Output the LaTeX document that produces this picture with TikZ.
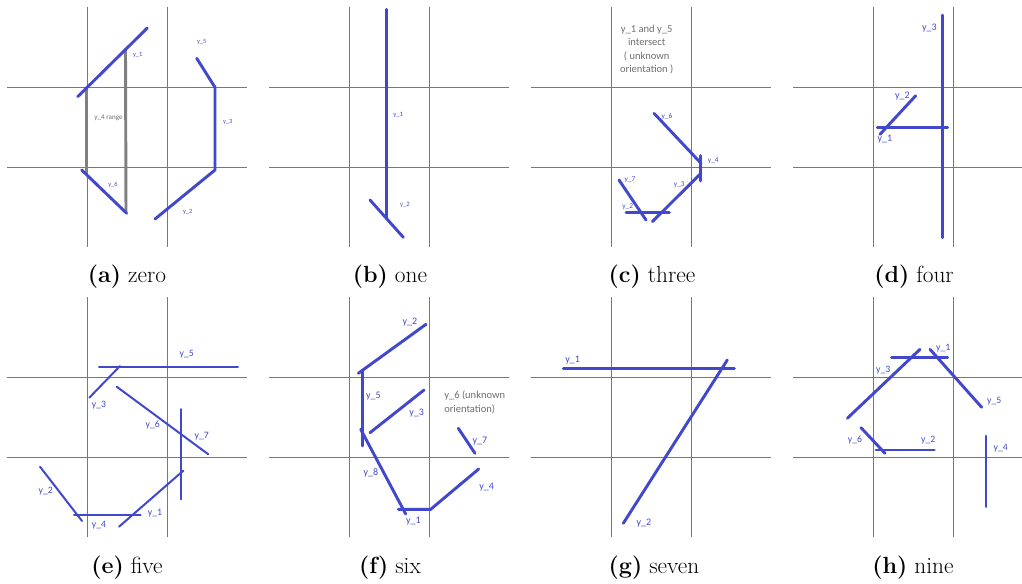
\documentclass[tikz,border=0pt]{standalone}
\usepackage{fontspec}
\usepackage{tikz}
\newfontfamily\lblfont{Carlito}
\definecolor{strokeblue}{RGB}{66,72,204}
\definecolor{gridgray}{RGB}{120,120,120}
\definecolor{rangegray}{RGB}{128,128,128}
\definecolor{notegray}{RGB}{110,110,110}

\begin{document}
\begin{tikzpicture}[x=0.75pt, y=-0.75pt,
    gridline/.style={draw=gridgray, line width=0.6pt},
    stroke/.style={draw=strokeblue, line width=2.2pt, line cap=round},
    thinstroke/.style={draw=strokeblue, line width=1.5pt, line cap=round},
    rangebar/.style={draw=rangegray, line width=2.2pt},
    lbl/.style={text=strokeblue, font=\lblfont\fontsize{#1}{#1}\selectfont, inner sep=0pt},
    lbl/.default=7.5,
    note/.style={text=notegray, font=\lblfont\fontsize{7.9}{10}\selectfont, inner sep=0pt},
    caption/.style={font=\fontsize{17.5}{20}\selectfont, inner sep=0pt}]
    \useasboundingbox (0,0) rectangle (1022,583);
    % grids
    \foreach \ox in {7,269,531,793} {
        \foreach \oy in {7,297} {
            \pgfmathsetmacro\xr{min(\ox+240,1022)}
            \draw[gridline] (\ox+80,\oy) -- (\ox+80,\oy+240);
            \draw[gridline] (\ox+160,\oy) -- (\ox+160,\oy+240);
            \draw[gridline] (\ox,\oy+80) -- (\xr,\oy+80);
            \draw[gridline] (\ox,\oy+160) -- (\xr,\oy+160);
        }
    }
    % (a) zero
    \draw[rangebar] (86.7,87.3) -- (86.7,173);
    \draw[rangebar] (125.5,50) -- (126,212.7);
    \draw[stroke] (77.7,96.7) -- (147.3,28);
    \draw[stroke] (81.7,170) -- (126.7,213.3);
    \draw[stroke] (196.7,58.3) -- (215,87.3) -- (215,170) -- (155,219);
    \node[lbl=4.8] (a1) at (137.7,55) {y\_1};
    \node[lbl=4.8] (a2) at (187.7,211.7) {y\_2};
    \node[lbl=4.8] (a3) at (227.7,122.3) {y\_3};
    \node[lbl=4.8] (a5) at (201.7,42.3) {y\_5};
    \node[lbl=4.8] (a6) at (113,185) {y\_6};
    \node[note, font=\lblfont\fontsize{5.3}{6}\selectfont] (a4) at (108.5,118) {y\_4 range};
    \node[caption] (capa) at (127,277) {\textbf{(a)} zero};
    % (b) one
    \draw[stroke] (386.7,9.3) -- (386.7,218.3);
    \draw[stroke] (370,200) -- (403.3,237.3);
    \node[lbl=5] (b1) at (398.3,115) {y\_1};
    \node[lbl=5] (b2) at (405,205) {y\_2};
    \node[caption] (capb) at (390,277) {\textbf{(b)} one};
    % (c) three
    \node[note, align=center] (cnote) at (646.7,49.5) {y\_1 and y\_5\\intersect\\( unknown\\orientation )};
    \draw[stroke] (654,113.3) -- (701,163.3);
    \draw[stroke] (700.3,155.7) -- (700.3,181);
    \draw[stroke] (701,173.3) -- (652.3,221.7);
    \draw[stroke] (619,180) -- (646,220);
    \draw[stroke] (626,212.3) -- (669.3,212.3);
    \node[lbl=5.5] (c2) at (627.7,206.7) {y\_2};
    \node[lbl=5.5] (c3) at (679.3,185) {y\_3};
    \node[lbl=5.5] (c4) at (713.3,160.7) {y\_4};
    \node[lbl=5.5] (c6) at (667,117) {y\_6};
    \node[lbl=5.5] (c7) at (630,180) {y\_7};
    \node[caption] (capc) at (652,277) {\textbf{(c)} three};
    % (d) four
    \draw[stroke] (942.7,15) -- (942.7,237.7);
    \draw[stroke] (877.3,127.7) -- (947.7,127.7);
    \draw[stroke] (915.7,95.7) -- (880,134.3);
    \node[lbl] (d1) at (885,139.3) {y\_1};
    \node[lbl] (d2) at (902.3,95.7) {y\_2};
    \node[lbl] (d3) at (929.3,28.3) {y\_3};
    \node[caption] (capd) at (914,277) {\textbf{(d)} four};
    % (e) five
    \draw[thinstroke] (99,367.3) -- (238,367.3);
    \draw[thinstroke] (120,366) -- (89.3,397.7);
    \draw[thinstroke] (116.7,386.7) -- (208.3,454.3);
    \draw[thinstroke] (180.7,409) -- (180.7,499.3);
    \draw[thinstroke] (183.3,470.7) -- (119,526.7);
    \draw[thinstroke] (74,515) -- (140.7,515);
    \draw[thinstroke] (40,466.7) -- (82,521);
    \node[lbl=7.3] (e1) at (155,513.3) {y\_1};
    \node[lbl=7.3] (e2) at (45.7,491) {y\_2};
    \node[lbl=7.3] (e3) at (99,405) {y\_3};
    \node[lbl=7.3] (e4) at (99,525) {y\_4};
    \node[lbl=7.3] (e5) at (186.7,354.3) {y\_5};
    \node[lbl=7.3] (e6) at (152.7,425) {y\_6};
    \node[lbl=7.3] (e7) at (201.7,435.7) {y\_7};
    \node[caption] (cape) at (127,568) {\textbf{(e)} five};
    % (f) six
    \draw[stroke] (426,324.3) -- (358.3,373.3);
    \draw[stroke] (362.3,370) -- (362.3,446);
    \draw[stroke] (424,390) -- (370,432.7);
    \draw[stroke] (360.7,429.3) -- (405.7,514);
    \draw[stroke] (398.3,509.3) -- (430.7,509.3) -- (478.7,469);
    \draw[stroke] (458.3,428.3) -- (475,453.3);
    \node[lbl] (f1) at (413.3,520.7) {y\_1};
    \node[lbl] (f2) at (410,322.3) {y\_2};
    \node[lbl] (f3) at (416.7,412.7) {y\_3};
    \node[lbl] (f4) at (486.7,486.7) {y\_4};
    \node[lbl] (f5) at (373.3,396) {y\_5};
    \node[lbl] (f7) at (480,440.7) {y\_7};
    \node[lbl] (f8) at (371,473.3) {y\_8};
    \node[note, align=left, anchor=west] (fnote) at (444,402.5) {y\_6 (unknown\\orientation)};
    \node[caption] (capf) at (390,568) {\textbf{(f)} six};
    % (g) seven
    \draw[stroke] (563.3,368.3) -- (734.3,368.3);
    \draw[stroke] (727.3,360) -- (623.3,523.3);
    \node[lbl] (g1) at (572.7,360) {y\_1};
    \node[lbl] (g2) at (644,523.3) {y\_2};
    \node[caption] (capg) at (654,568) {\textbf{(g)} seven};
    % (h) nine
    \draw[stroke] (891.7,357.3) -- (947.7,357.3);
    \draw[stroke] (920,349.3) -- (847.3,418.3);
    \draw[stroke] (930,349.3) -- (981.7,407.3);
    \draw[stroke] (861,427.7) -- (885,453.3);
    \draw[stroke] (876,450) -- (934.3,450);
    \draw[stroke] (986,436) -- (986,506.7);
    \node[lbl=7.3] (h1) at (943.3,347.7) {y\_1};
    \node[lbl=7.3] (h2) at (928.3,440) {y\_2};
    \node[lbl=7.3] (h3) at (883.3,370) {y\_3};
    \node[lbl=7.3] (h4) at (1000.7,447.7) {y\_4};
    \node[lbl=7.3] (h5) at (994.3,401) {y\_5};
    \node[lbl=7.3] (h6) at (855,440) {y\_6};
    \node[caption] (caph) at (913,568) {\textbf{(h)} nine};
\end{tikzpicture}
\end{document}
